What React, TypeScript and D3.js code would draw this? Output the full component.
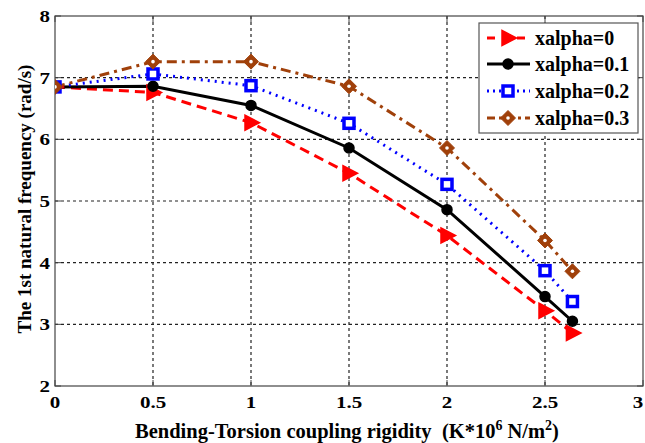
import React from "react";
import * as d3 from "d3";

// Coupling rigidity K (x10^6 N/m^2) and first natural frequency (rad/s) per xalpha
const rigidity = [0, 0.5, 1, 1.5, 2, 2.5, 2.64];
const freqAlpha0 = [6.85, 6.76, 6.27, 5.45, 4.44, 3.22, 2.86];
const freqAlpha01 = [6.85, 6.86, 6.55, 5.86, 4.86, 3.45, 3.05];
const freqAlpha02 = [6.85, 7.06, 6.87, 6.26, 5.27, 3.87, 3.37];
const freqAlpha03 = [6.85, 7.26, 7.26, 6.86, 5.86, 4.36, 3.86];
const xTicks = [0, 0.5, 1, 1.5, 2, 2.5, 3];
const yTicks = [2, 3, 4, 5, 6, 7, 8];
const seriesNames = ["xalpha=0", "xalpha=0.1", "xalpha=0.2", "xalpha=0.3"];

type Marker = "tri" | "circle" | "square" | "diamond";
const series = [
  { name: seriesNames[0], values: freqAlpha0, color: "#ff0000", dash: "10,6", legDash: "8,7", marker: "tri" as Marker },
  { name: seriesNames[1], values: freqAlpha01, color: "#000000", dash: "none", legDash: "none", marker: "circle" as Marker },
  { name: seriesNames[2], values: freqAlpha02, color: "#0000ff", dash: "2,5", legDash: "2,4", marker: "square" as Marker },
  { name: seriesNames[3], values: freqAlpha03, color: "#a0400a", dash: "10,5,3,5", legDash: "8,4,3,4", marker: "diamond" as Marker },
];

const W = 645;
const H = 443;
const left = 55;
const right = 643;
const top = 16;
const bottom = 386;
const font = "'Liberation Serif', 'Times New Roman', serif";

function MarkerShape({ kind, x, y, color }: { kind: Marker; x: number; y: number; color: string }) {
  if (kind === "tri") {
    return (
      <path
        d={`M${x - 6},${y - 7.5}L${x + 8.5},${y}L${x - 6},${y + 7.5}Z`}
        fill={color}
        stroke={color}
        strokeWidth={1.5}
      />
    );
  }
  if (kind === "circle") {
    return <circle cx={x} cy={y} r={5} fill={color} stroke={color} strokeWidth={1.5} />;
  }
  if (kind === "square") {
    return <rect x={x - 5} y={y - 5} width={10} height={10} fill="#ffffff" stroke={color} strokeWidth={3.5} />;
  }
  return (
    <g>
      <path
        d={`M${x},${y - 7.5}L${x + 7.5},${y}L${x},${y + 7.5}L${x - 7.5},${y}Z`}
        fill={color}
        stroke={color}
        strokeWidth={1}
      />
      <circle cx={x} cy={y} r={1.8} fill="#ffffff" />
    </g>
  );
}

export default function App() {
  const x = d3.scaleLinear().domain([0, 3]).range([left, right]);
  const y = d3.scaleLinear().domain([2, 8]).range([bottom, top]);
  const line = d3
    .line<number>()
    .x((_, i) => x(rigidity[i]))
    .y((d) => y(d));

  const legX = 479;
  const legY = 23;
  const legW = 159;
  const legH = 110;
  const rowY = [38, 64, 91, 118];

  return (
    <svg
      width={W}
      height={H}
      style={{ position: "absolute", left: 0, top: 0, background: "#ffffff" }}
      fontFamily={font}
    >
      <defs>
        <clipPath id="plotClip">
          <rect x={left} y={top - 10} width={right - left + 10} height={bottom - top + 10} />
        </clipPath>
      </defs>
      <rect x={0} y={0} width={W} height={H} fill="#ffffff" />
      {/* grid */}
      {xTicks.slice(1, -1).map((t) => (
        <line key={`gx${t}`} x1={x(t)} x2={x(t)} y1={top} y2={bottom} stroke="#222" strokeWidth={1.2} strokeDasharray="3,3" />
      ))}
      {yTicks.slice(1, -1).map((t) => (
        <line key={`gy${t}`} x1={left} x2={right} y1={y(t)} y2={y(t)} stroke="#222" strokeWidth={1.2} strokeDasharray="3,3" />
      ))}
      {/* frame */}
      <rect x={left} y={top} width={right - left} height={bottom - top} fill="none" stroke="#444" strokeWidth={1.2} />
      {/* ticks; the last label is kept inside the page edge */}
      {xTicks.map((t) => (
        <g key={`tx${t}`}>
          <line x1={x(t)} x2={x(t)} y1={bottom} y2={bottom - 6} stroke="#444" />
          <line x1={x(t)} x2={x(t)} y1={top} y2={top + 6} stroke="#444" />
          <text
            transform={`translate(${Math.min(x(t), W - 7)}, 408) scale(1.2, 1)`}
            textAnchor="middle"
            fontSize={17.5}
            fontWeight="bold"
          >
            {t}
          </text>
        </g>
      ))}
      {yTicks.map((t) => (
        <g key={`ty${t}`}>
          <line x1={left} x2={left + 6} y1={y(t)} y2={y(t)} stroke="#444" />
          <line x1={right} x2={right - 6} y1={y(t)} y2={y(t)} stroke="#444" />
          <text
            transform={`translate(50, ${y(t) + 6}) scale(1.2, 1)`}
            textAnchor="end"
            fontSize={17.5}
            fontWeight="bold"
          >
            {t}
          </text>
        </g>
      ))}
      {/* series */}
      <g clipPath="url(#plotClip)">
        {series.map((s) => (
          <path
            key={s.name}
            d={line(s.values) || ""}
            fill="none"
            stroke={s.color}
            strokeWidth={3}
            strokeDasharray={s.dash}
          />
        ))}
        {series.map((s) =>
          s.values.map((v, i) => (
            <MarkerShape key={`${s.name}${i}`} kind={s.marker} x={x(rigidity[i])} y={y(v)} color={s.color} />
          ))
        )}
      </g>
      {/* legend */}
      <rect x={legX} y={legY} width={legW} height={legH} fill="#ffffff" stroke="#555" strokeWidth={1.2} />
      {series.map((s, i) => (
        <g key={`leg${s.name}`}>
          <line x1={487} x2={530} y1={rowY[i]} y2={rowY[i]} stroke={s.color} strokeWidth={3} strokeDasharray={s.legDash} />
          <MarkerShape kind={s.marker} x={508} y={rowY[i]} color={s.color} />
          <text x={535} y={rowY[i] + 7} fontSize={20} fontWeight="bold">
            {s.name}
          </text>
        </g>
      ))}
      {/* axis titles */}
      <text x={347} y={438} textAnchor="middle" fontSize={20.5} fontWeight="bold">
        Bending-Torsion coupling rigidity{"\u00a0\u00a0"}(K*10
        <tspan dy={-8} fontSize={14}>6</tspan>
        <tspan dy={8}> N/m</tspan>
        <tspan dy={-8} fontSize={14}>2</tspan>
        <tspan dy={8}>)</tspan>
      </text>
      <text
        transform={`translate(31, 199) rotate(-90)`}
        textAnchor="middle"
        fontSize={19}
        fontWeight="bold"
      >
        The 1st natural frequency (rad/s)
      </text>
    </svg>
  );
}
